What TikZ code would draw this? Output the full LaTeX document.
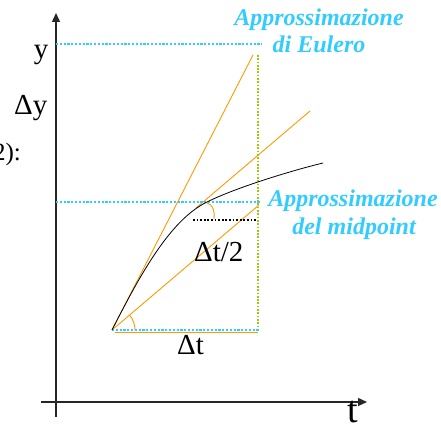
\documentclass[tikz,border=0pt]{standalone}
\usepackage{fontspec}
\setmainfont{Liberation Serif}
\usetikzlibrary{arrows.meta}
\definecolor{cyanb}{HTML}{33CCFF}
\definecolor{greenb}{HTML}{99CC00}
\definecolor{orangeb}{HTML}{FF9900}
\begin{document}
\begin{tikzpicture}[x=1pt,y=1pt,
  axis/.style={line width=1.3pt, draw=black!85, -{Triangle[length=9pt,width=8pt]}},
  bluedot/.style={draw=cyanb, line width=2.2pt, dash pattern=on 2.2pt off 1.6pt},
  greendot/.style={draw=greenb, line width=1.7pt, dash pattern=on 1.7pt off 1.6pt},
  blackdot/.style={draw=black, line width=1.8pt, dash pattern=on 1.8pt off 1.8pt},
  orangeline/.style={draw=orangeb, line width=0.9pt},
  curve/.style={draw=black, line width=0.8pt},
  lab/.style={inner sep=0pt, font=\fontsize{29}{30}\selectfont},
  blab/.style={inner sep=0pt, text=cyanb, font=\fontsize{24}{26}\selectfont\bfseries\itshape, anchor=base},
]
\useasboundingbox (0,0) rectangle (441,425);
% coordinates
\coordinate (ybot) at (56,8);
\coordinate (ytop) at (56,412);
\coordinate (tl) at (41,23);
\coordinate (tr) at (367,23);
\coordinate (P0) at (112,95);
\coordinate (M) at (207,223);
\coordinate (E) at (323,262);
\coordinate (Ee) at (253,370);
\coordinate (U1) at (196,217);
\coordinate (U2) at (310,314);
\coordinate (L2) at (259,220);
\coordinate (H1) at (115,93);
\coordinate (H2) at (258,93);
\coordinate (B1a) at (56,381);
\coordinate (B1b) at (262,381);
\coordinate (B2a) at (56,223);
\coordinate (B2b) at (260,223);
\coordinate (B3b) at (260,95);
\coordinate (Ga) at (258,370);
\coordinate (Gb) at (258,95);
\coordinate (Ka) at (193,205);
\coordinate (Kb) at (257,205);
\coordinate (A1) at (207,222);
\coordinate (A2) at (214,206);
% axes
\draw[axis] (ybot) -- (ytop);
\draw[axis] (tl) -- (tr);
% orange lines
\draw[orangeline] (P0) -- (Ee);
\draw[orangeline] (U1) -- (U2);
\draw[orangeline] (P0) -- (L2);
\draw[orangeline] (H1) -- (H2);
\draw[orangeline] ([shift={(23,0)}]P0) arc[start angle=0, end angle=40, radius=23];
\draw[orangeline] (A1) .. controls (213,221) and (215,213) .. (A2);
% dotted guides
\draw[greendot] (Ga) -- (Gb);
\draw[bluedot] (B1a) -- (B1b);
\draw[bluedot] (B2a) -- (B2b);
\draw[bluedot] (P0) -- (B3b);
\draw[blackdot] (Ka) -- (Kb);
% curve
\draw[curve] (P0) .. controls (140,150) and (170,205) .. (M) .. controls (235,237) and (290,254) .. (E);
% labels
\node[lab, anchor=base] (ylab) at (41,366) {y};
\node[lab, anchor=base west] (dylab) at (14,310) {Δy};
\node[lab, anchor=base east, font=\fontsize{25}{26}\selectfont] (frag) at (21,264) {2):};
\node[lab, anchor=base west] (dt2) at (194,163) {Δt/2};
\node[lab, anchor=base west] (dt) at (177,70) {Δt};
\node[lab, anchor=base, font=\fontsize{38}{40}\selectfont] (tlab) at (353,2) {t};
\node[blab] (e1) at (319,399) {Approssimazione};
\node[blab] (e2) at (319,372) {di Eulero};
\node[blab] (m1) at (353,218) {Approssimazione};
\node[blab] (m2) at (354,190) {del midpoint};
\end{tikzpicture}
\end{document}
